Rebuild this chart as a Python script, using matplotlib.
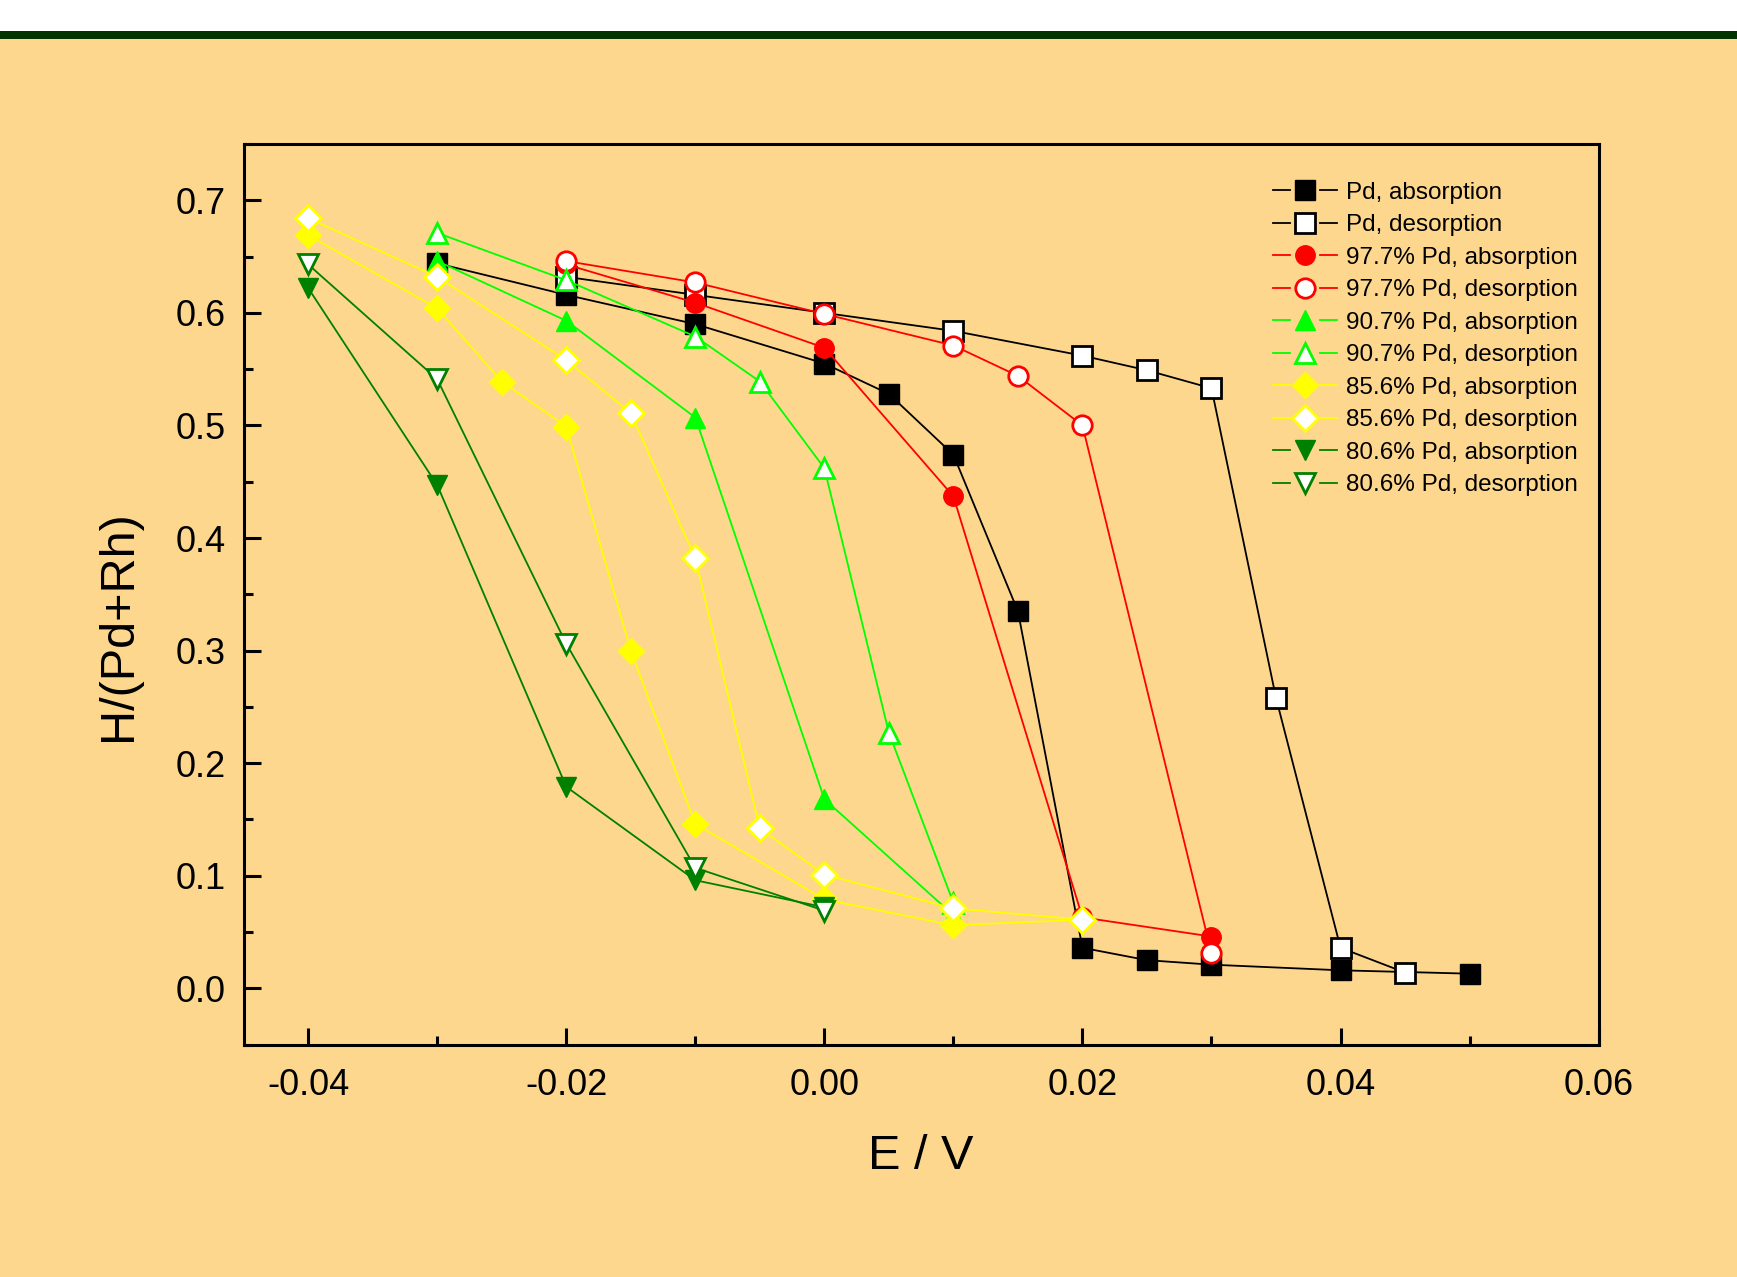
import matplotlib
matplotlib.use("Agg")
import matplotlib.pyplot as plt
import numpy as np
from matplotlib.patches import Rectangle
from matplotlib.lines import Line2D
from matplotlib.legend_handler import HandlerLine2D
from matplotlib.ticker import MultipleLocator

plt.rcParams['font.family'] = ['Liberation Sans', 'DejaVu Sans']

BG = '#FED78E'

# ---- data ----
pd_abs_x = [-0.03, -0.02, -0.01, 0.00, 0.005, 0.01, 0.015, 0.02, 0.025, 0.03, 0.04, 0.05]
pd_abs_y = [0.644, 0.616, 0.590, 0.555, 0.528, 0.474, 0.335, 0.036, 0.025, 0.021, 0.016, 0.013]
pd_des_x = [-0.02, -0.01, 0.00, 0.01, 0.02, 0.025, 0.03, 0.035, 0.04, 0.045]
pd_des_y = [0.632, 0.616, 0.600, 0.584, 0.562, 0.549, 0.533, 0.258, 0.036, 0.014]

r97_abs_x = [-0.02, -0.01, 0.00, 0.01, 0.02, 0.03]
r97_abs_y = [0.643, 0.609, 0.569, 0.437, 0.063, 0.046]
r97_des_x = [-0.02, -0.01, 0.00, 0.01, 0.015, 0.02, 0.03]
r97_des_y = [0.646, 0.627, 0.599, 0.571, 0.544, 0.500, 0.031]

g90_abs_x = [-0.03, -0.02, -0.01, 0.00, 0.01]
g90_abs_y = [0.646, 0.593, 0.507, 0.168, 0.065]
g90_des_x = [-0.03, -0.02, -0.01, -0.005, 0.00, 0.005, 0.01]
g90_des_y = [0.671, 0.629, 0.579, 0.539, 0.462, 0.227, 0.076]

y85_abs_x = [-0.04, -0.03, -0.025, -0.02, -0.015, -0.01, 0.00, 0.01, 0.02]
y85_abs_y = [0.669, 0.604, 0.539, 0.499, 0.300, 0.146, 0.079, 0.056, 0.061]
y85_des_x = [-0.04, -0.03, -0.02, -0.015, -0.01, -0.005, 0.00, 0.01, 0.02]
y85_des_y = [0.684, 0.632, 0.558, 0.511, 0.382, 0.142, 0.101, 0.071, 0.061]

d80_abs_x = [-0.04, -0.03, -0.02, -0.01, 0.00]
d80_abs_y = [0.622, 0.447, 0.179, 0.096, 0.072]
d80_des_x = [-0.04, -0.03, -0.02, -0.01, 0.00]
d80_des_y = [0.643, 0.541, 0.306, 0.107, 0.069]

labels = ["Pd, absorption", "Pd, desorption",
          "97.7% Pd, absorption", "97.7% Pd, desorption",
          "90.7% Pd, absorption", "90.7% Pd, desorption",
          "85.6% Pd, absorption", "85.6% Pd, desorption",
          "80.6% Pd, absorption", "80.6% Pd, desorption"]

x_ticks = [-0.04, -0.02, 0.00, 0.02, 0.04, 0.06]
x_ticklabels = ['-0.04', '-0.02', '0.00', '0.02', '0.04', '0.06']
y_ticks = [0.0, 0.1, 0.2, 0.3, 0.4, 0.5, 0.6, 0.7]
y_ticklabels = ['0.0', '0.1', '0.2', '0.3', '0.4', '0.5', '0.6', '0.7']

series = [
    (pd_abs_x, pd_abs_y, '#000000', 's', True),
    (pd_des_x, pd_des_y, '#000000', 's', False),
    (r97_abs_x, r97_abs_y, '#FF0000', 'o', True),
    (r97_des_x, r97_des_y, '#FF0000', 'o', False),
    (g90_abs_x, g90_abs_y, '#00FF00', '^', True),
    (g90_des_x, g90_des_y, '#00FF00', '^', False),
    (y85_abs_x, y85_abs_y, '#FFFF00', 'D', True),
    (y85_des_x, y85_des_y, '#FFFF00', 'D', False),
    (d80_abs_x, d80_abs_y, '#008000', 'v', True),
    (d80_des_x, d80_des_y, '#008000', 'v', False),
]


class GapHandler(HandlerLine2D):
    """Legend handle drawn as: short line, marker, short line (with gaps)."""
    def create_artists(self, legend, orig_handle, xdescent, ydescent,
                       width, height, fontsize, trans):
        y = (height - ydescent) / 2.0
        x0 = -xdescent
        x1 = -xdescent + width
        xc = (x0 + x1) / 2.0
        seg = width * 0.26
        arts = []
        for xs in ([x0, x0 + seg], [x1 - seg, x1]):
            ln = Line2D(xs, [y, y])
            self.update_prop(ln, orig_handle, legend)
            ln.set_marker('None')
            ln.set_transform(trans)
            arts.append(ln)
        mk = Line2D([xc], [y])
        self.update_prop(mk, orig_handle, legend)
        mk.set_linestyle('None')
        mk.set_transform(trans)
        arts.append(mk)
        return arts


fig = plt.figure(figsize=(17.37, 12.77), dpi=100)
fig.patch.set_facecolor(BG)
fig.patches.append(Rectangle((0, 1 - 31/1277), 1, 31/1277, transform=fig.transFigure,
                             facecolor='white', edgecolor='none', zorder=0))
fig.patches.append(Rectangle((0, 1 - 39/1277), 1, 8/1277, transform=fig.transFigure,
                             facecolor='#003300', edgecolor='none', zorder=0))

ax = fig.add_axes([243.7/1737, 1 - 1044.6/1277, (1598.6-243.7)/1737, (1044.6-144)/1277])
ax.set_facecolor(BG)

handles = []
for (x, y, c, m, filled), lab in zip(series, labels):
    ms = 14 if m in ('s', 'o') else (15 if m in ('^', 'v') else 13)
    h, = ax.plot(x, y, color=c, lw=1.3, marker=m, markersize=ms,
                 markerfacecolor=c if filled else 'white',
                 markeredgecolor=c, markeredgewidth=2.0 if not filled else 1.0,
                 label=lab)
    handles.append(h)

ax.set_xlim(-0.045, 0.06)
ax.set_ylim(-0.05, 0.75)
ax.xaxis.set_minor_locator(MultipleLocator(0.01))
ax.yaxis.set_minor_locator(MultipleLocator(0.05))
ax.set_xticks(x_ticks)
ax.set_xticklabels(x_ticklabels)
ax.set_yticks(y_ticks)
ax.set_yticklabels(y_ticklabels)

ax.tick_params(which='both', direction='in', top=False, right=False, width=2.2)
ax.tick_params(which='major', length=12, labelsize=26)
ax.tick_params(axis='x', which='major', pad=17)
ax.tick_params(axis='y', which='major', pad=13)
ax.tick_params(which='minor', length=6.5)
for s in ax.spines.values():
    s.set_linewidth(2.2)

ax.set_xlabel('E / V', fontsize=35, labelpad=22)
ax.set_ylabel('H/(Pd+Rh)', fontsize=35)
ax.yaxis.set_label_coords(-0.076, 0.465)

leg = ax.legend(handles=handles, loc='upper right', bbox_to_anchor=(1.003, 0.985),
                frameon=False, fontsize=17.5, numpoints=1, handlelength=2.6,
                handletextpad=0.4, labelspacing=0.43, borderaxespad=0.6,
                handler_map={Line2D: GapHandler()})

fig.savefig('out.png', dpi=100, facecolor=fig.get_facecolor())
